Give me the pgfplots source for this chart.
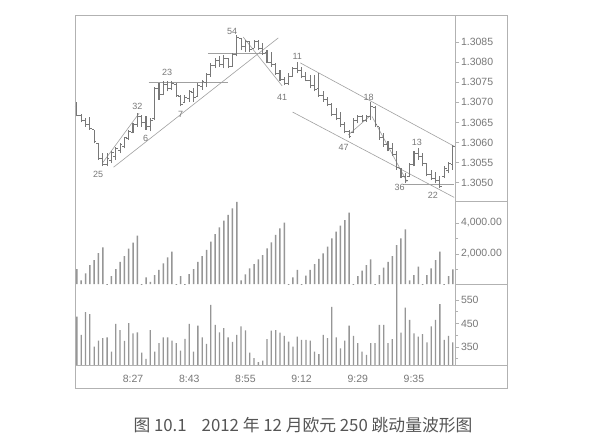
\documentclass[border=0pt]{standalone}
\usepackage{fontspec}
\setmainfont{Liberation Sans}
\newfontfamily\cjk{Noto Sans CJK SC}
\usepackage{pgfplots}
\usepackage{pgfplotstable}
\pgfplotsset{compat=1.18}
\definecolor{framegray}{RGB}{178,178,178}
\definecolor{bargray}{RGB}{150,150,150}
\definecolor{ohlcgray}{RGB}{120,120,120}
\definecolor{txtgray}{RGB}{120,120,120}
\definecolor{capgray}{RGB}{85,85,85}
\pgfdeclareplotmark{openmark}{\pgfpathmoveto{\pgfqpoint{-2.3pt}{0pt}}\pgfpathlineto{\pgfqpoint{0pt}{0pt}}\pgfusepathqstroke}
\pgfdeclareplotmark{closemark}{\pgfpathmoveto{\pgfqpoint{0pt}{0pt}}\pgfpathlineto{\pgfqpoint{2.3pt}{0pt}}\pgfusepathqstroke}
\tikzset{lab/.style={font=\fontsize{9}{10}\selectfont, text=txtgray, inner sep=0pt}}

\pgfplotstableread{
i o h l c
0 1.30690 1.30700 1.30665 1.30668
1 1.30668 1.30670 1.30650 1.30655
2 1.30655 1.30662 1.30640 1.30645
3 1.30645 1.30664 1.30632 1.30635
4 1.30632 1.30632 1.30598 1.30602
5 1.30598 1.30598 1.30557 1.30560
6 1.30560 1.30574 1.30541 1.30545
7 1.30545 1.30574 1.30541 1.30560
8 1.30555 1.30578 1.30549 1.30575
9 1.30565 1.30590 1.30557 1.30585
10 1.30580 1.30599 1.30574 1.30595
11 1.30590 1.30615 1.30586 1.30612
12 1.30610 1.30632 1.30607 1.30628
13 1.30625 1.30648 1.30623 1.30645
14 1.30645 1.30673 1.30640 1.30665
15 1.30665 1.30669 1.30640 1.30650
16 1.30650 1.30665 1.30632 1.30640
17 1.30640 1.30661 1.30628 1.30655
18 1.30660 1.30739 1.30656 1.30735
19 1.30735 1.30747 1.30706 1.30720
20 1.30720 1.30752 1.30718 1.30745
21 1.30745 1.30752 1.30727 1.30735
22 1.30735 1.30753 1.30731 1.30748
23 1.30745 1.30747 1.30714 1.30718
24 1.30715 1.30719 1.30690 1.30695
25 1.30700 1.30719 1.30698 1.30712
26 1.30710 1.30731 1.30702 1.30728
27 1.30725 1.30735 1.30702 1.30712
28 1.30715 1.30747 1.30714 1.30742
29 1.30740 1.30755 1.30731 1.30752
30 1.30750 1.30772 1.30739 1.30768
31 1.30768 1.30797 1.30764 1.30792
32 1.30792 1.30809 1.30785 1.30805
33 1.30805 1.30814 1.30789 1.30795
34 1.30795 1.30818 1.30785 1.30810
35 1.30808 1.30809 1.30785 1.30790
36 1.30790 1.30822 1.30789 1.30818
37 1.30818 1.30867 1.30814 1.30860
38 1.30858 1.30859 1.30830 1.30838
39 1.30838 1.30855 1.30826 1.30850
40 1.30850 1.30851 1.30826 1.30832
41 1.30835 1.30855 1.30834 1.30850
42 1.30850 1.30855 1.30830 1.30835
43 1.30835 1.30847 1.30818 1.30822
44 1.30825 1.30830 1.30797 1.30800
45 1.30800 1.30826 1.30789 1.30795
46 1.30795 1.30797 1.30768 1.30772
47 1.30772 1.30781 1.30752 1.30756
48 1.30756 1.30764 1.30743 1.30746
49 1.30748 1.30772 1.30743 1.30765
50 1.30765 1.30789 1.30764 1.30785
51 1.30785 1.30801 1.30772 1.30780
52 1.30780 1.30789 1.30760 1.30765
53 1.30765 1.30776 1.30752 1.30755
54 1.30755 1.30768 1.30735 1.30742
55 1.30742 1.30768 1.30727 1.30732
56 1.30735 1.30772 1.30714 1.30718
57 1.30718 1.30727 1.30702 1.30706
58 1.30706 1.30714 1.30690 1.30695
59 1.30695 1.30698 1.30665 1.30670
60 1.30670 1.30685 1.30656 1.30660
61 1.30660 1.30677 1.30640 1.30645
62 1.30645 1.30652 1.30623 1.30628
63 1.30628 1.30632 1.30611 1.30615
64 1.30625 1.30661 1.30623 1.30655
65 1.30655 1.30669 1.30648 1.30665
66 1.30665 1.30669 1.30652 1.30656
67 1.30656 1.30669 1.30652 1.30666
68 1.30665 1.30702 1.30656 1.30690
69 1.30688 1.30690 1.30640 1.30645
70 1.30640 1.30640 1.30607 1.30612
71 1.30612 1.30623 1.30590 1.30595
72 1.30595 1.30603 1.30578 1.30585
73 1.30585 1.30599 1.30566 1.30570
74 1.30570 1.30578 1.30532 1.30538
75 1.30535 1.30537 1.30512 1.30515
76 1.30515 1.30524 1.30499 1.30505
77 1.30516 1.30549 1.30516 1.30545
78 1.30545 1.30578 1.30541 1.30572
79 1.30572 1.30586 1.30557 1.30565
80 1.30565 1.30574 1.30541 1.30548
81 1.30548 1.30549 1.30516 1.30520
82 1.30520 1.30532 1.30508 1.30512
83 1.30512 1.30528 1.30499 1.30505
84 1.30505 1.30516 1.30487 1.30492
85 1.30515 1.30541 1.30512 1.30535
86 1.30530 1.30553 1.30524 1.30548
87 1.30545 1.30594 1.30532 1.30590
}\ohlc

\pgfplotstableread{
i w v
0 1030 479
1 300 401
2 750 498
3 1290 490
4 1610 351
5 2060 377
6 2430 387
7 0 391
8 580 330
9 1030 448
10 1500 422
11 1870 376
12 2340 451
13 2730 408
14 3180 412
15 0 326
16 490 299
17 200 422
18 645 330
19 970 366
20 1400 391
21 1790 391
22 2150 377
23 0 366
24 580 334
25 0 384
26 710 448
27 1030 330
28 1500 441
29 1870 391
30 2260 363
31 2800 529
32 3290 444
33 3720 412
34 4150 430
35 4520 391
36 4950 372
37 5370 401
38 300 437
39 690 420
40 1080 326
41 1350 302
42 1660 285
43 1935 292
44 2370 383
45 2750 419
46 3230 422
47 3660 411
48 4020 397
49 0 373
50 500 351
51 970 394
52 0 380
53 600 380
54 970 377
55 1350 330
56 1680 319
57 2040 401
58 2470 387
59 3010 521
60 3440 391
61 3830 344
62 4190 377
63 4670 441
64 0 397
65 580 366
66 920 330
67 1290 316
68 1660 366
69 0 366
70 645 444
71 1120 444
72 1500 366
73 1870 383
74 2580 640
75 3010 411
76 3590 517
77 300 465
78 645 408
79 1180 394
80 0 405
81 645 369
82 1080 437
83 1610 465
84 2150 532
85 0 380
86 580 397
87 1010 369
}\vol

\begin{document}
\begin{tikzpicture}
\fill[white] (0pt,0pt) rectangle (600pt,436pt);
\pgfplotsset{panel/.style={scale only axis, width=379pt, xmin=-0.2, xmax=87.5,
  anchor=south west, axis y line*=right,
  y axis line style={draw=framegray, line width=0.8pt},
  ytick style={draw=framegray, line width=0.8pt},
  minor y tick style={draw=framegray, line width=0.8pt},
  tick label style={font=\fontsize{10.5}{12}\selectfont, text=txtgray},
  tick align=outside, major tick length=4pt, minor tick length=3pt,
  yticklabel style={xshift=-1.5pt}}}

% price panel
\begin{axis}[panel, axis x line=none, at={(76pt,235pt)}, height=186pt, ymin=1.30455, ymax=1.30917,
  ytick={1.3050,1.3055,1.3060,1.3065,1.3070,1.3075,1.3080,1.3085},
  yticklabels={1.3050,1.3055,1.3060,1.3065,1.3070,1.3075,1.3080,1.3085}]
\addplot[draw=ohlcgray!70, line width=0.6pt] coordinates {(8.5,1.30539) (46.6,1.30860)};
\addplot[draw=ohlcgray!70, line width=0.6pt] coordinates {(5.9,1.30549) (14.4,1.30673)};
\addplot[draw=ohlcgray!70, line width=0.6pt] coordinates {(16.6,1.30750) (34.9,1.30750)};
\addplot[draw=ohlcgray!70, line width=0.6pt] coordinates {(30.3,1.30823) (44.1,1.30823)};
\addplot[draw=ohlcgray!70, line width=0.6pt] coordinates {(38.5,1.30862) (47.5,1.30741)};
\addplot[draw=ohlcgray!70, line width=0.6pt] coordinates {(51.7,1.30798) (87.3,1.30591)};
\addplot[draw=ohlcgray!70, line width=0.6pt] coordinates {(49.9,1.30676) (87.3,1.30464)};
\addplot[draw=ohlcgray!70, line width=0.6pt] coordinates {(75.5,1.30497) (87.3,1.30497)};
\addplot[draw=ohlcgray!70, line width=0.6pt] coordinates {(62.8,1.30619) (67.9,1.30667)};
\addplot[draw=ohlcgray!70, line width=0.6pt] coordinates {(68.3,1.30665) (76.4,1.30503)};
\addplot[draw=none, mark=none, error bars/.cd, y dir=plus, y explicit, error mark=none,
  error bar style={draw=ohlcgray, line width=1.1pt}]
  table[x=i, y=l, y error expr=\thisrow{h}-\thisrow{l}] {\ohlc};
\addplot[only marks, mark=openmark, mark options={draw=ohlcgray, line width=1pt}] table[x=i, y=o] {\ohlc};
\addplot[only marks, mark=closemark, mark options={draw=ohlcgray, line width=1pt}] table[x=i, y=c] {\ohlc};
\node[lab] at (axis cs:4.9,1.30522) {25};
\node[lab] at (axis cs:14.0,1.30691) {32};
\node[lab] at (axis cs:15.9,1.30611) {6};
\node[lab] at (axis cs:20.9,1.30775) {23};
\node[lab] at (axis cs:24.0,1.30669) {7};
\node[lab] at (axis cs:35.9,1.30877) {54};
\node[lab] at (axis cs:47.5,1.30713) {41};
\node[lab] at (axis cs:51.0,1.30815) {11};
\node[lab] at (axis cs:61.7,1.30589) {47};
\node[lab] at (axis cs:67.5,1.30713) {18};
\node[lab] at (axis cs:74.7,1.30489) {36};
\node[lab] at (axis cs:78.7,1.30600) {13};
\node[lab] at (axis cs:82.4,1.30468) {22};
\end{axis}

% wave volume panel
\begin{axis}[panel, axis x line=none, at={(76pt,152pt)}, height=83pt, ymin=65, ymax=5419,
  ytick={2000,4000}, yticklabels={{2,000.00},{4,000.00}}, minor ytick={1000,3000}]
\addplot[ybar, bar width=1.5pt, fill=bargray, draw=none] table[x=i, y=w] {\vol};
\end{axis}

% volume panel
\begin{axis}[panel, at={(76pt,71pt)}, height=81pt, ymin=273, ymax=618,
  ytick={350,450,550}, yticklabels={350,450,550}, minor ytick={300,400,500},
  axis x line*=bottom, x axis line style={draw=framegray, line width=0.8pt},
  xtick={13,26,39,52,65,78}, xticklabels={8:27,8:43,8:55,9:12,9:29,9:35},
  xtick style={draw=none}, xticklabel style={yshift=-3pt}]
\addplot[ybar, bar width=1.3pt, fill=bargray, draw=none] table[x=i, y=v] {\vol};
\end{axis}

\draw[framegray, line width=0.8pt] (75.5pt,48pt) rectangle (507pt,421pt);
\draw[framegray, line width=0.8pt] (455pt,235pt) -- (507pt,235pt);
\draw[framegray, line width=0.8pt] (455pt,152pt) -- (507pt,152pt);
\draw[framegray, line width=0.8pt] (75.5pt,71pt) -- (507pt,71pt);
\node[font=\cjk\fontsize{16.8}{18}\selectfont, text=capgray] at (303pt,11pt) {图 10.1\hspace{15pt}2012 年 12 月欧元 250 跳动量波形图};
\end{tikzpicture}
\end{document}
